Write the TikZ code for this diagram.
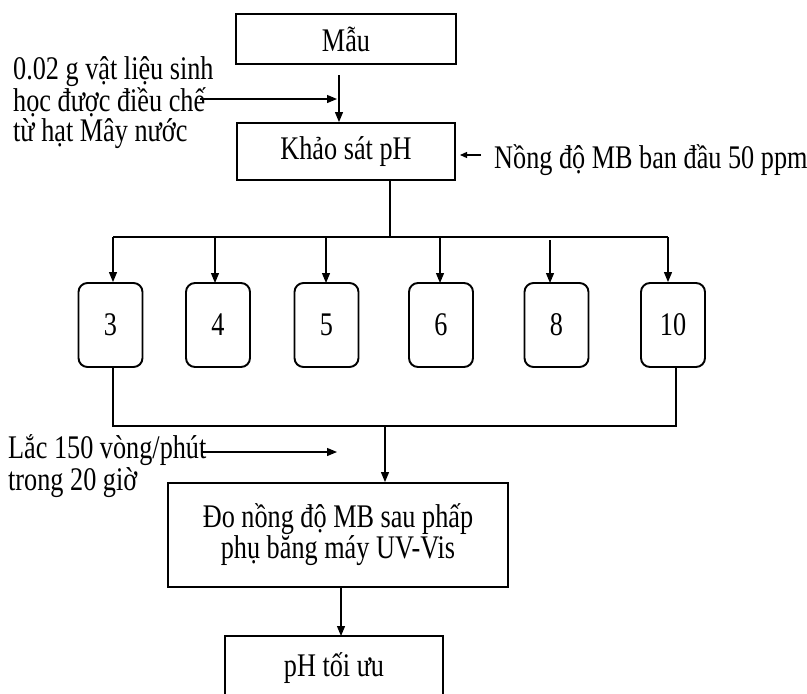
\documentclass[tikz,border=0pt]{standalone}
\usepackage{fontspec}
\setmainfont{Liberation Serif}[FakeStretch=0.795]
\usetikzlibrary{arrows.meta}
\begin{document}
\begin{tikzpicture}[x=1pt,y=-1pt,
  font=\fontsize{33}{28}\selectfont,
  box/.style={draw,line width=1.9pt,inner sep=0pt},
  rbox/.style={box,rounded corners=9pt,minimum width=64pt,minimum height=84pt},
  conn/.style={line width=1.2pt},
  arr/.style={conn,-{Triangle[length=10pt,width=8pt]}},
  sarr/.style={conn,-{Triangle[length=7pt,width=6pt]}},
  lbl/.style={inner sep=0pt,align=left}]
\useasboundingbox (0,0) rectangle (807,694);
% main boxes
\node[box,minimum width=220pt,minimum height=50pt] (mau) at (346,39) {\raisebox{-2pt}{Mẫu}};
\node[box,minimum width=218pt,minimum height=57pt] (khao) at (346,151.5) {\raisebox{-4pt}{Khảo sát pH}};
\node[box,minimum width=340pt,minimum height=104pt,align=center,
      font=\fontsize{33}{30}\selectfont] (do) at (338,535) {Đo nồng độ MB sau phấp\\phụ băng máy UV-Vis};
\node[box,minimum width=218pt,minimum height=64pt] (toi) at (334,668) {\raisebox{-2pt}{pH tối ưu}};
% pH boxes
\node[rbox] (p3) at (110.5,325) {\raisebox{-2pt}{3}};
\node[rbox] (p4) at (218,325) {\raisebox{-2pt}{4}};
\node[rbox] (p5) at (326.5,325) {\raisebox{-2pt}{5}};
\node[rbox] (p6) at (441,325) {\raisebox{-2pt}{6}};
\node[rbox] (p8) at (556.5,325) {\raisebox{-2pt}{8}};
\node[rbox] (p10) at (673,325) {\raisebox{-2pt}{10}};
% side labels (base = last line)
\node[lbl,anchor=base west] (mat) at (13,141) {0.02 g vật liệu sinh\\học được điều chế\\từ hạt Mây nước};
\node[lbl,anchor=base west] (nong) at (494,168) {Nồng độ MB ban đầu 50 ppm};
\node[lbl,anchor=base west] (lac) at (8,490) {Lắc 150 vòng/phút\\trong 20 giờ};
% helper coordinates
\coordinate (a0) at (339,75);
\coordinate (m0) at (200,99);
\coordinate (m1) at (337,99);
\coordinate (n0) at (481,155);
\coordinate (n1) at (460,155);
\coordinate (b0) at (390,180);
\coordinate (bus) at (390,237);
\coordinate (busL) at (113,237);
\coordinate (busR) at (668,237);
\coordinate (j) at (385,426);
\coordinate (l0) at (202,452);
\coordinate (l1) at (337,452);
% connectors
\draw[arr] (a0) -- (a0 |- khao.north);
\draw[arr] (m0) -- (m1);
\draw[sarr] (n0) -- (n1);
\draw[conn] (b0) -- (bus);
\draw[conn] (busL) -- (busR);
\draw[arr] (busL) -- (busL |- p3.north);
\draw[arr] (215,237) -- (215,283);
\draw[arr] (326,237) -- (326,283);
\draw[arr] (440,237) -- (440,283);
\draw[arr] (550,240) -- (550,283);
\draw[arr] (busR) -- (busR |- p10.north);
\draw[conn] (113,367) -- (113,426) -- (676,426) -- (676,367);
\draw[arr] (j) -- (j |- do.north);
\draw[arr] (l0) -- (l1);
\draw[arr] (341,587) -- (341,636);
\end{tikzpicture}
\end{document}
